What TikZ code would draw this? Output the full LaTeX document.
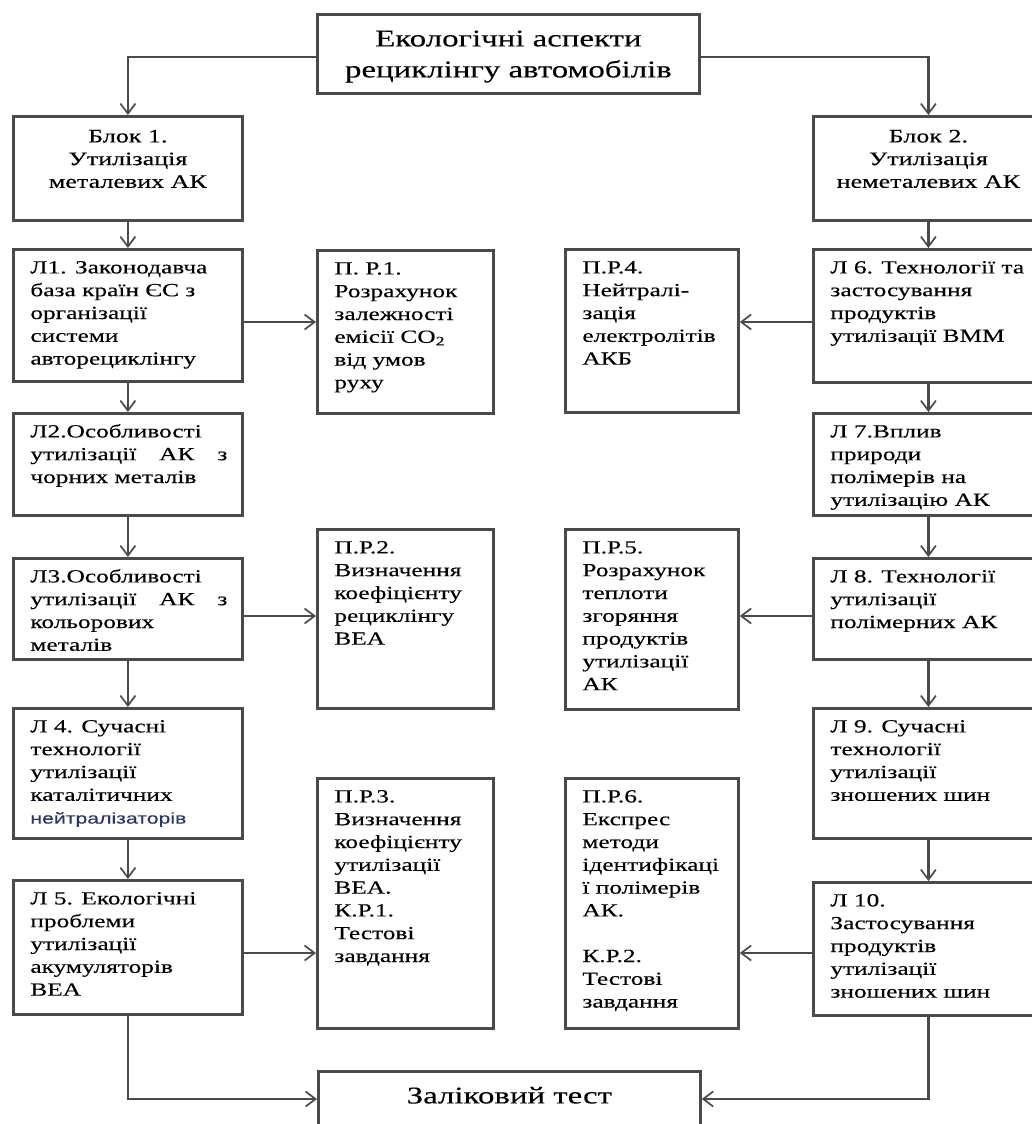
\documentclass[tikz,border=0pt]{standalone}
\usepackage{fontspec}
\setmainfont{Liberation Serif}[FakeStretch=1.37,FakeBold=0.25]
\newfontfamily\sansf{Liberation Sans}[FakeStretch=1.37,FakeBold=0.15]
\usetikzlibrary{arrows.meta}
\definecolor{lc}{HTML}{4A4A4A}
\definecolor{nb}{HTML}{2A3560}
\newcommand\bt[3]{\hspace*{17pt}\parbox[t][#2pt][t]{\dimexpr#1pt-17pt\relax}{\raggedright\rule{0pt}{24pt}#3}}
\newcommand\bc[4]{\parbox[t][#2pt][t]{#1pt}{\centering\rule{0pt}{#3pt}#4}}
\tikzset{
  bx/.style={draw=lc, line width=2.8pt, inner sep=0pt, anchor=north west, fill=white, font=\fontsize{18.5}{22.8}\selectfont},
  bk/.style={bx, font=\fontsize{19}{22.7}\selectfont},
  tp/.style={bx, font=\fontsize{24}{31}\selectfont},
  arr/.style={draw=lc, line width=2.6pt, -{Straight Barb[length=10pt,width=15pt,line width=1.7pt]}}
}
\begin{document}
\begin{tikzpicture}[x=1pt,y=-1pt]
\useasboundingbox (0,0) rectangle (1032,1124);
\fill[white] (0,0) rectangle (1032,1124);
\clip (0,0) rectangle (1032,1124);
\coordinate (rt) at (0,57);
\coordinate (r1) at (0,322);
\coordinate (r2) at (0,616);
\coordinate (r3) at (0,953);
\coordinate (rb) at (0,1099);

\node[tp] (top) at (316,13) {\bc{382}{79}{32}{Екологічні аспекти\\рециклінгу автомобілів}};
\node[bk] (B1) at (12,115) {\bc{229}{104}{26}{Блок 1.\\Утилізація\\металевих АК}};
\node[bk] (B2) at (812,115) {\bc{230}{104}{26}{Блок 2.\\Утилізація\\неметалевих АК}};

\node[bx] (L1) at (12,248) {\bt{229}{132}{Л1. Законодавча\\база країн ЄС з\\організації\\системи\\авторециклінгу}};
\node[bx] (P1) at (316,249) {\bt{176}{163}{П. Р.1.\\Розрахунок\\залежності\\емісії CO\textsubscript{2}\\від умов\\руху}};
\node[bx] (L2) at (12,412) {\bt{229}{102}{Л2.Особливості\\утилізації\hfill АК\hfill з\kern15pt\\чорних металів}};
\node[bx] (L3) at (12,557) {\bt{229}{101}{Л3.Особливості\\утилізації\hfill АК\hfill з\kern15pt\\кольорових\\металів}};
\node[bx] (P2) at (316,528) {\bt{176}{179}{П.Р.2.\\Визначення\\коефіцієнту\\рециклінгу\\ВЕА}};
\node[bx] (L4) at (12,707) {\bt{229}{130}{Л 4. Сучасні\\технології\\утилізації\\каталітичних\\{\sansf\fontsize{15.5}{22.8}\selectfont\color{nb}нейтралізаторів}}};
\node[bx] (P3) at (316,777) {\bt{176}{250}{П.Р.3.\\Визначення\\коефіцієнту\\утилізації\\ВЕА.\\К.Р.1.\\Тестові\\завдання}};
\node[bx] (L5) at (12,879) {\bt{229}{134}{Л 5. Екологічні\\проблеми\\утилізації\\акумуляторів\\ВЕА}};

\node[bx] (P4) at (564,248) {\bt{173}{163}{П.Р.4.\\Нейтралі-\\зація\\електролітів\\АКБ}};
\node[bx] (L6) at (812,248) {\bt{230}{133}{Л 6. Технології та\\застосування\\продуктів\\утилізації ВММ}};
\node[bx] (L7) at (812,412) {\bt{230}{102}{Л 7.Вплив\\природи\\полімерів на\\утилізацію АК}};
\node[bx] (P5) at (564,528) {\bt{173}{180}{П.Р.5.\\Розрахунок\\теплоти\\згоряння\\продуктів\\утилізації\\АК}};
\node[bx] (L8) at (812,557) {\bt{230}{101}{Л 8. Технології\\утилізації\\полімерних АК}};
\node[bx] (L9) at (812,707) {\bt{230}{130}{Л 9. Сучасні\\технології\\утилізації\\зношених шин}};
\node[bx] (P6) at (564,777) {\bt{173}{250}{П.Р.6.\\Експрес\\методи\\ідентифікаці\\ї полімерів\\АК.\\\mbox{}\\К.Р.2.\\Тестові\\завдання}};
\node[bx] (L10) at (812,881) {\bt{230}{133}{Л 10.\\Застосування\\продуктів\\утилізації\\зношених шин}};

\node[tp] (F) at (317,1070) {\bc{382}{80}{32}{Заліковий тест}};

\draw[arr] (top.west |- rt) -| (B1.north);
\draw[arr] (top.east |- rt) -| (B2.north);
\draw[arr] (B1.south) -- (L1.north);
\draw[arr] (L1.south) -- (L2.north);
\draw[arr] (L2.south) -- (L3.north);
\draw[arr] (L3.south) -- (L4.north);
\draw[arr] (L4.south) -- (L5.north);
\draw[arr] (B2.south) -- (L6.north);
\draw[arr] (L6.south) -- (L7.north);
\draw[arr] (L7.south) -- (L8.north);
\draw[arr] (L8.south) -- (L9.north);
\draw[arr] (L9.south) -- (L10.north);
\draw[arr] (L1.east |- r1) -- (P1.west |- r1);
\draw[arr] (L3.east |- r2) -- (P2.west |- r2);
\draw[arr] (L5.east |- r3) -- (P3.west |- r3);
\draw[arr] (L6.west |- r1) -- (P4.east |- r1);
\draw[arr] (L8.west |- r2) -- (P5.east |- r2);
\draw[arr] (L10.west |- r3) -- (P6.east |- r3);
\draw[arr] (L5.south) |- (F.west |- rb);
\draw[arr] (L10.south) |- (F.east |- rb);
\end{tikzpicture}
\end{document}
